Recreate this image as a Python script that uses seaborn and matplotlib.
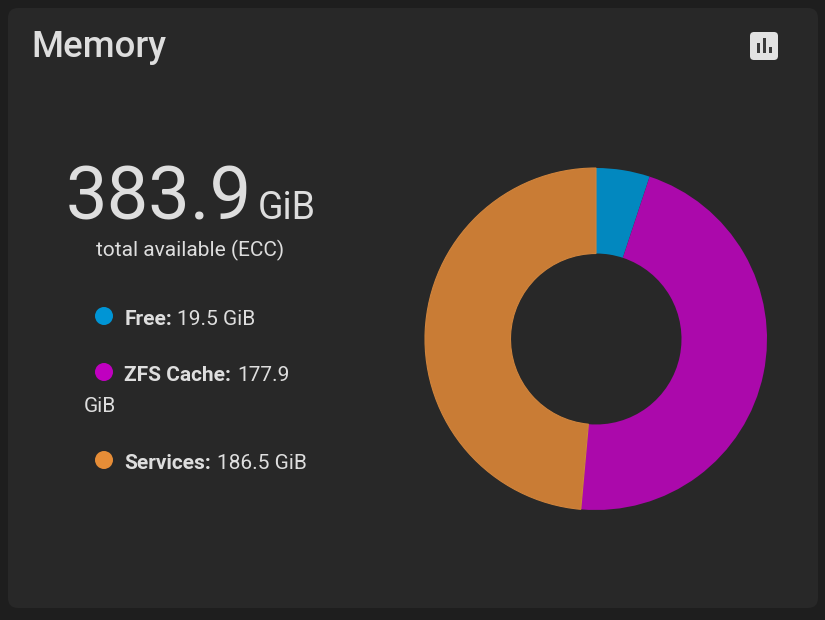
import seaborn as sns
import matplotlib.pyplot as plt
from matplotlib.patches import FancyBboxPatch, Rectangle, Circle

categories = ["Free", "ZFS Cache", "Services"]
values = [19.5, 177.9, 186.5]
value_labels = ["19.5 GiB", "177.9", "186.5 GiB"]
slice_colors = ["#0288BF", "#AB09AB", "#C97C35"]
legend_colors = ["#0095D5", "#C000C0", "#E68D37"]
total = "383.9"

text_color = "#DEDEDE"
card_color = "#282828"

sns.set_theme(style="dark")
plt.rcParams["font.family"] = ["Roboto", "DejaVu Sans"]

fig = plt.figure(figsize=(8.25, 6.2), dpi=100, facecolor="#1E1E1E")

# overlay in pixel coords, same as the screenshot
ax = fig.add_axes([0, 0, 1, 1])
ax.set_xlim(0, 825)
ax.set_ylim(620, 0)
ax.axis("off")

ax.add_patch(FancyBboxPatch((8, 8), 810, 600, boxstyle="round,pad=0,rounding_size=10", linewidth=0, facecolor=card_color))

ax.text(31.5, 57, "Memory", fontsize=26.4, fontweight="medium", color=text_color, va="baseline")

# chart icon
ax.add_patch(FancyBboxPatch((750, 32), 28, 28, boxstyle="round,pad=0,rounding_size=4", linewidth=0, facecolor="#E2E2E2"))
for x, y in [(757, 43), (763, 38), (769, 47)]:
    ax.add_patch(Rectangle((x, y), 3, 53 - y, linewidth=0, facecolor="#3A3A3A"))

ax.text(65.5, 219, total, fontsize=53.4, color=text_color, va="baseline")
ax.text(258, 219, "GiB", fontsize=27, color=text_color, va="baseline")
ax.text(190, 256, "total available (ECC)", fontsize=15, color=text_color, va="baseline", ha="center")

# legend
rows = [325, 381, 469]
value_x = [177, 237, 217]
for i, name in enumerate(categories):
    ax.add_patch(Circle((104, rows[i] - 9), 9, linewidth=0, facecolor=legend_colors[i]))
    ax.text(124.5, rows[i], name + ":", fontsize=15, fontweight="bold", color=text_color, va="baseline")
    ax.text(value_x[i], rows[i], value_labels[i], fontsize=15, color=text_color, va="baseline")
ax.text(83.5, 412, "GiB", fontsize=15, color=text_color, va="baseline")

# donut, center 596,339 radius 171
pie_ax = fig.add_axes([425 / 825, (620 - 510) / 620, 342 / 825, 342 / 620])
wedges, _ = pie_ax.pie(
    values,
    colors=slice_colors,
    startangle=90,
    counterclock=False,
    radius=1,
    wedgeprops={"width": 0.5, "linewidth": 0},
)
# only the services slice has a visible seam on its edges
wedges[2].set_edgecolor("#D0843C")
wedges[2].set_linewidth(0.8)
pie_ax.set_xlim(-1, 1)
pie_ax.set_ylim(-1, 1)
pie_ax.patch.set_alpha(0)

fig.savefig("out.png", dpi=100, facecolor=fig.get_facecolor())
plt.close(fig)
